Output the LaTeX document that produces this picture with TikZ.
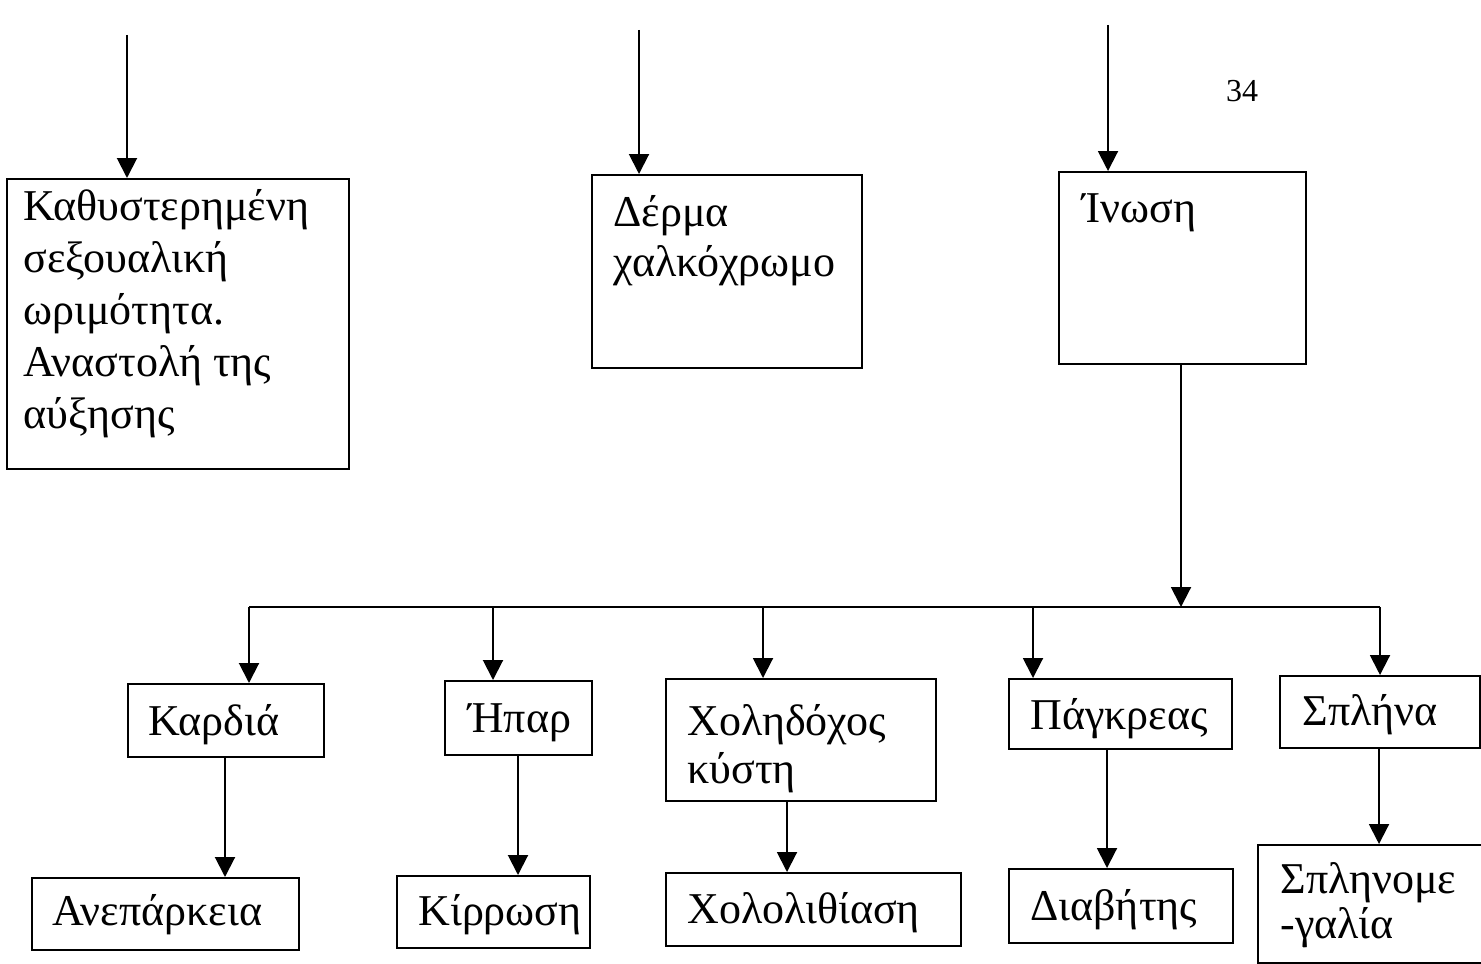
\documentclass[tikz,border=0pt]{standalone}
\usepackage{fontspec}
\setmainfont{Liberation Serif}
\usetikzlibrary{arrows.meta}
\begin{document}
\begin{tikzpicture}[x=0.5pt,y=-0.5pt,
  box/.style={draw, line width=1.2pt, anchor=north west, inner sep=0pt},
  lbl/.style={anchor=base west, inner sep=0pt, align=left, font=\fontsize{22}{26}\selectfont},
  conn/.style={line width=1pt},
  arr/.style={conn, -{Triangle[length=10pt,width=10pt]}}]
\useasboundingbox (0,0) rectangle (1481,963);
\clip (0,0) rectangle (1481,963);
% page number
\node[anchor=base, inner sep=0pt, font=\fontsize{16}{18}\selectfont] (pg) at (1242,102) {34};
% top boxes
\node[box, minimum width=171pt, minimum height=145pt] (b1) at (6,178) {};
\node[box, minimum width=135pt, minimum height=96.5pt] (b2) at (591,174) {};
\node[box, minimum width=123.5pt, minimum height=96pt] (b3) at (1058,171) {};
% multi-line labels: anchored at the baseline of their last line
\node[lbl] (t-b1) at (23,428) {Καθυστερημένη\\σεξουαλική\\ωριμότητα.\\Αναστολή της\\αύξησης};
\node[lbl, font=\fontsize{22}{25}\selectfont] (t-b2) at (613,276) {Δέρμα\\χαλκόχρωμο};
\node[lbl] (t-b3) at (1082,222) {Ίνωση};
% middle row
\node[box, minimum width=98pt, minimum height=36.5pt] (kard) at (127,683) {};
\node[box, minimum width=73.5pt, minimum height=37pt] (ipar) at (444,680) {};
\node[box, minimum width=135pt, minimum height=61pt] (xol) at (665,678) {};
\node[box, minimum width=111.5pt, minimum height=35pt] (pagk) at (1008,678) {};
\node[box, minimum width=100pt, minimum height=36pt] (spl) at (1279,675) {};
\node[lbl] (t-kard) at (148,735) {Καρδιά};
\node[lbl] (t-ipar) at (468,732) {Ήπαρ};
\node[lbl, font=\fontsize{22}{24}\selectfont] (t-xol) at (687,783) {Χοληδόχος\\κύστη};
\node[lbl] (t-pagk) at (1030,729) {Πάγκρεας};
\node[lbl] (t-spl) at (1302,725) {Σπλήνα};
% bottom row
\node[box, minimum width=133.5pt, minimum height=36pt] (anep) at (31,877) {};
\node[box, minimum width=96.5pt, minimum height=36pt] (kirr) at (396,875) {};
\node[box, minimum width=147.5pt, minimum height=36.5pt] (xolol) at (665,872) {};
\node[box, minimum width=112pt, minimum height=37pt] (diab) at (1008,868) {};
\node[box, minimum width=121.5pt, minimum height=59pt] (splm) at (1257,844) {};
\node[lbl] (t-anep) at (52,925) {Ανεπάρκεια};
\node[lbl] (t-kirr) at (418,925) {Κίρρωση};
\node[lbl] (t-xolol) at (687,923) {Χολολιθίαση};
\node[lbl] (t-diab) at (1030,920) {Διαβήτης};
\node[lbl, font=\fontsize{22}{22.5}\selectfont] (t-splm) at (1280,938) {Σπληνομε\\-γαλία};
% incoming arrows at top
\coordinate (s1) at (127,35);
\coordinate (s2) at (639,30);
\coordinate (s3) at (1108,25);
\draw[arr] (s1) -- (s1 |- b1.north);
\draw[arr] (s2) -- (s2 |- b2.north);
\draw[arr] (s3) -- (s3 |- b3.north);
% bus
\coordinate (j) at (1181,607);
\coordinate (bl) at (249,607);
\coordinate (br) at (1380,607);
\coordinate (x2) at (493,607);
\coordinate (x3) at (763,607);
\coordinate (x4) at (1033,607);
\draw[arr] (j |- b3.south) -- (j);
\draw[conn] (bl) -- (br);
\draw[arr] (bl) -- (bl |- kard.north);
\draw[arr] (x2) -- (x2 |- ipar.north);
\draw[arr] (x3) -- (x3 |- xol.north);
\draw[arr] (x4) -- (x4 |- pagk.north);
\draw[arr] (br) -- (br |- spl.north);
% child arrows
\coordinate (c1) at (225,0);
\coordinate (c2) at (518,0);
\coordinate (c3) at (787,0);
\coordinate (c4) at (1107,0);
\coordinate (c5) at (1379,0);
\draw[arr] (c1 |- kard.south) -- (c1 |- anep.north);
\draw[arr] (c2 |- ipar.south) -- (c2 |- kirr.north);
\draw[arr] (c3 |- xol.south) -- (c3 |- xolol.north);
\draw[arr] (c4 |- pagk.south) -- (c4 |- diab.north);
\draw[arr] (c5 |- spl.south) -- (c5 |- splm.north);
\end{tikzpicture}
\end{document}
